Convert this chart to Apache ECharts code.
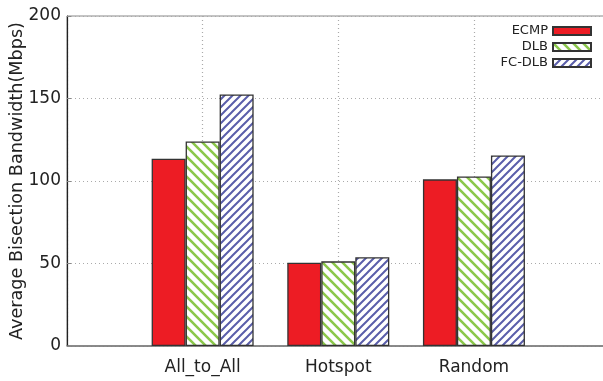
<!DOCTYPE html>
<html>
<head>
<meta charset="utf-8">
<script src="https://cdn.jsdelivr.net/npm/echarts@6/dist/echarts.min.js"></script>
<style>
  html, body { margin: 0; padding: 0; background: #fff; }
  #chart { width: 603px; height: 381px; }
</style>
</head>
<body>
<div id="chart"></div>
<script>
// Traffic patterns and measured bisection bandwidth (Mbps) per scheme
const categories = ['All_to_All', 'Hotspot', 'Random'];
const seriesNames = ['ECMP', 'DLB', 'FC-DLB'];
const ecmp = [113.5, 50.5, 101];
const dlb = [124, 51.3, 102.8];
const fcdlb = [152.5, 53.8, 115.5];
const yTicks = [0, 50, 100, 150, 200];

const FONT = '"DejaVu Sans", sans-serif';

// Build a repeating hatch tile: white background with diagonal strokes
function hatch(color, size, width, dir) {
  const c = document.createElement('canvas');
  c.width = size; c.height = size;
  const ctx = c.getContext('2d');
  ctx.fillStyle = '#ffffff';
  ctx.fillRect(0, 0, size, size);
  ctx.strokeStyle = color;
  ctx.lineWidth = width;
  ctx.beginPath();
  if (dir === '/') {
    for (let k = -1; k <= 1; k++) {
      ctx.moveTo(k * size - 1, size + 1);
      ctx.lineTo(k * size + size + 1, -1);
    }
  } else {
    for (let k = -1; k <= 1; k++) {
      ctx.moveTo(k * size - 1, -1);
      ctx.lineTo(k * size + size + 1, size + 1);
    }
  }
  ctx.stroke();
  return c;
}

const fills = [
  '#ed1c24',
  { image: hatch('#8cc84b', 10, 2.6, '\\'), repeat: 'repeat' },
  { image: hatch('#5a5eaa', 8, 2.0, '/'), repeat: 'repeat' }
];
const values = [ecmp, dlb, fcdlb];

const chart = echarts.init(document.getElementById('chart'), null, { renderer: 'canvas' });

const gridLine = { show: true, lineStyle: { color: '#aaa', type: [1, 3], width: 1.2 } };

chart.setOption({
  animation: false,
  backgroundColor: '#ffffff',
  grid: {
    left: 67, right: -12, top: 16, bottom: 35,
    show: true, borderColor: '#888', borderWidth: 1,
    containLabel: false, outerBoundsMode: 'none'
  },
  legend: {
    orient: 'vertical',
    right: 11,
    top: 23,
    padding: 0,
    align: 'right',
    itemWidth: 38,
    itemHeight: 8,
    itemGap: 0,
    icon: 'rect',
    textStyle: { fontFamily: FONT, fontSize: 13, color: '#222', lineHeight: 16 },
    data: seriesNames
  },
  xAxis: {
    type: 'value',
    min: -1,
    max: 3.04,
    interval: 1,
    axisLine: { show: true, onZero: false, lineStyle: { color: '#777', width: 1.5 } },
    axisTick: { show: false },
    axisLabel: {
      fontFamily: FONT, fontSize: 17, color: '#222', margin: 13,
      formatter: function (v) { return categories[Math.round(v)] || ''; }
    },
    splitLine: gridLine
  },
  yAxis: {
    type: 'value',
    min: 0,
    max: 200,
    interval: 50,
    name: 'Average Bisection Bandwidth(Mbps)',
    nameLocation: 'middle',
    nameGap: 41,
    nameMoveOverlap: false,
    nameTextStyle: { fontFamily: FONT, fontSize: 17.6, color: '#222' },
    axisLine: { show: true, onZero: false, lineStyle: { color: '#222', width: 1.2 } },
    axisTick: { show: true, inside: true, length: 4, lineStyle: { color: '#888' } },
    axisLabel: {
      fontFamily: FONT, fontSize: 17, color: '#222', margin: 6,
      formatter: function (v) { return yTicks.indexOf(v) >= 0 ? String(v) : ''; }
    },
    splitLine: gridLine
  },
  series: seriesNames.map(function (name, i) {
    return {
      name: name,
      type: 'bar',
      barWidth: 34,
      barGap: '0%',
      itemStyle: { color: fills[i], borderColor: '#333', borderWidth: 1.3 },
      data: values[i].map(function (v, j) { return [j, v]; })
    };
  })
});
</script>
</body>
</html>
